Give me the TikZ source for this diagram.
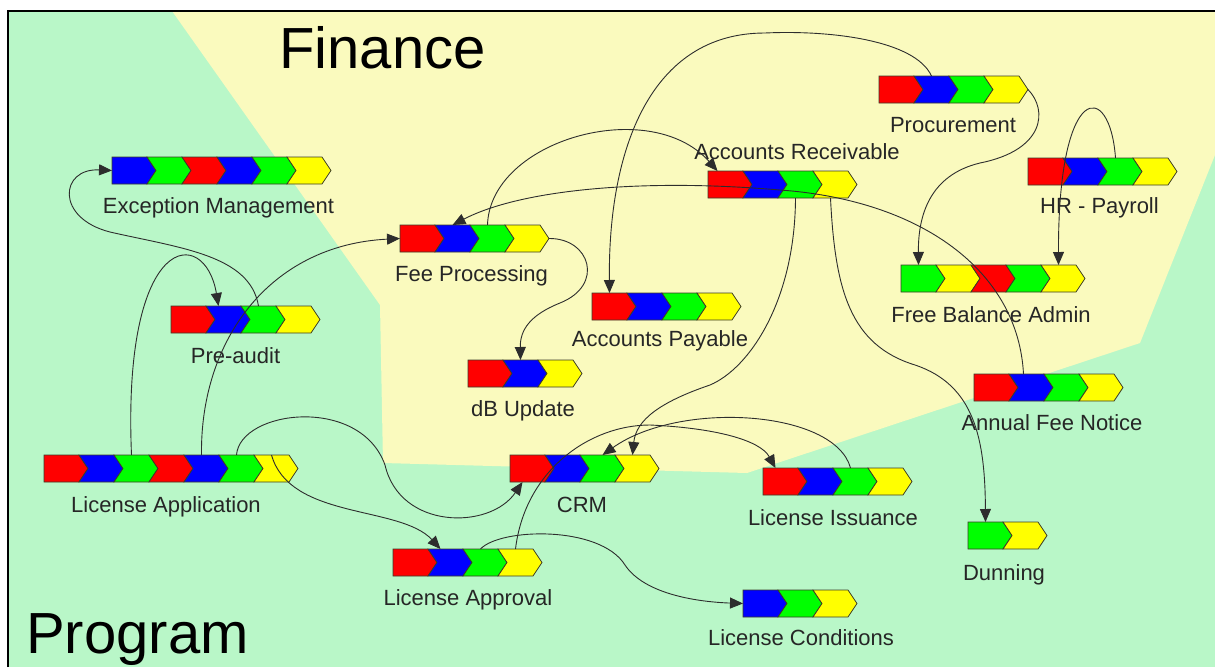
\documentclass[tikz,border=0pt]{standalone}
\usepackage{fontspec}
\setmainfont{Liberation Sans}
\usetikzlibrary{arrows.meta}
\definecolor{bggreen}{RGB}{185,247,200}
\definecolor{bgyellow}{RGB}{250,250,190}
\definecolor{cR}{RGB}{255,0,0}
\definecolor{cB}{RGB}{0,0,255}
\definecolor{cG}{RGB}{0,255,0}
\definecolor{cY}{RGB}{255,255,0}
\definecolor{edgecol}{RGB}{60,60,40}
\definecolor{wirecol}{RGB}{45,45,45}
\tikzset{
  chev/.style={draw=edgecol, line width=0.8pt, line join=miter},
  lbl/.style={anchor=base, inner sep=0pt, text=black!85, font=\fontsize{22}{26}\selectfont},
  big/.style={anchor=base west, inner sep=0pt, text=black, font=\fontsize{58}{62}\selectfont},
  wire/.style={draw=wirecol, line width=0.9pt, -{Triangle[length=13pt,width=11pt]}}
}
\newcommand\chevchain[4]{%
  \foreach \cc [count=\ii from 0] in {#4} {
    \pgfmathsetmacro\xa{#2+35*\ii}
    \pgfmathsetmacro\xb{\xa+35}
    \pgfmathsetmacro\xc{\xa+44}
    \pgfmathsetmacro\xm{\xa+17.5}
    \pgfmathsetmacro\xn{\xa+9}
    \ifnum\ii=0
      \filldraw[chev,fill=\cc] (\xa,#3) -- (\xb,#3) -- (\xc,#3+13.5) -- (\xb,#3+27) -- (\xa,#3+27) -- cycle;
    \else
      \filldraw[chev,fill=\cc] (\xa,#3) -- (\xb,#3) -- (\xc,#3+13.5) -- (\xb,#3+27) -- (\xa,#3+27) -- (\xn,#3+13.5) -- cycle;
    \fi
    \coordinate (#1-\ii-n) at (\xm,#3);
    \coordinate (#1-\ii-s) at (\xm,#3+27);
    \coordinate (#1-\ii-w) at (\xa,#3+13.5);
    \coordinate (#1-\ii-e) at (\xc,#3+13.5);
  }%
}
\begin{document}
\begin{tikzpicture}[x=1pt,y=-1pt]
\useasboundingbox (0,0) rectangle (1215,667);
% background regions
\fill[bggreen] (8,11) rectangle (1215,667);
\fill[bgyellow] (172,11) -- (380,305) -- (383,463) -- (747,473) -- (1140,343) -- (1215,155) -- (1215,11) -- cycle;
\draw[line width=2pt] (8,667) -- (8,11) -- (1215,11);
% titles
\node[big] (fin) at (279,68) {Finance};
\node[big] (prog) at (26,653) {Program};
% chains
\chevchain{exc}{112}{157}{cB,cG,cR,cB,cG,cY}
\chevchain{fee}{400}{225}{cR,cB,cG,cY}
\chevchain{ap}{592}{293}{cR,cB,cG,cY}
\chevchain{db}{468}{360}{cR,cB,cY}
\chevchain{pre}{171}{306}{cR,cB,cG,cY}
\chevchain{lapp}{44}{455}{cR,cB,cG,cR,cB,cG,cY}
\chevchain{crm}{510}{455}{cR,cB,cG,cY}
\chevchain{lappr}{393}{549}{cR,cB,cG,cY}
\chevchain{liss}{763}{468}{cR,cB,cG,cY}
\chevchain{lcond}{743}{590}{cB,cG,cY}
\chevchain{ar}{708}{171}{cR,cB,cG,cY}
\chevchain{proc}{879}{76}{cR,cB,cG,cY}
\chevchain{hr}{1028}{158}{cR,cB,cG,cY}
\chevchain{fba}{901}{265}{cG,cY,cR,cG,cY}
\chevchain{afn}{974}{374}{cR,cB,cG,cY}
\chevchain{dun}{968}{522}{cG,cY}
% labels
\node[lbl] (exc-l) at (218.5,213) {Exception Management};
\node[lbl] (fee-l) at (471.5,281) {Fee Processing};
\node[lbl] (ap-l) at (660,346) {Accounts Payable};
\node[lbl] (db-l) at (523,416) {dB Update};
\node[lbl] (pre-l) at (235.5,363) {Pre-audit};
\node[lbl] (lapp-l) at (166,512) {License Application};
\node[lbl] (crm-l) at (582,512) {CRM};
\node[lbl] (lappr-l) at (468,605) {License Approval};
\node[lbl] (liss-l) at (833,525) {License Issuance};
\node[lbl] (lcond-l) at (801,645) {License Conditions};
\node[lbl] (ar-l) at (797,159) {Accounts Receivable};
\node[lbl] (proc-l) at (953,132) {Procurement};
\node[lbl] (hr-l) at (1099.5,213) {HR - Payroll};
\node[lbl] (fba-l) at (991,322) {Free Balance Admin};
\node[lbl] (afn-l) at (1052,430) {Annual Fee Notice};
\node[lbl] (dun-l) at (1004,580) {Dunning};
% connectors
\draw[wire] (lapp-2-n) .. controls (122,230) and (205,225) .. ([xshift=-5pt]pre-1-n);
\draw[wire] (lapp-4-n) .. controls (200,340) and (270,245) .. (fee-0-w);
\draw[wire] (pre-2-n) .. controls (250,255) and (180,248) .. (110,232) .. controls (55,218) and (60,168) .. (exc-0-w);
\draw[wire] (lapp-5-n) .. controls (240,410) and (360,395) .. (385,465) .. controls (400,530) and (490,530) .. ([xshift=-5pt]crm-0-s);
\draw[wire] (lapp-6-n) .. controls (290,520) and (400,505) .. ([xshift=-5pt]lappr-1-n);
\draw[wire] (fee-3-e) .. controls (590,238) and (605,285) .. (560,303) .. controls (530,315) and (520,330) .. (db-1-n);
\draw[wire] ([xshift=-3pt]afn-1-n) .. controls (1018,270) and (920,200) .. (780,190) .. controls (640,178) and (520,190) .. (fee-1-n);
\draw[wire] (fee-2-n) .. controls (490,140) and (650,95) .. ([xshift=-8pt]ar-0-n);
\draw[wire] (proc-1-n) .. controls (915,40) and (830,30) .. (765,33) .. controls (650,33) and (608,150) .. (ap-0-n);
\draw[wire] (proc-3-e) .. controls (1048,110) and (1045,150) .. (980,163) .. controls (930,175) and (918,215) .. (fba-0-n);
\draw[wire] (hr-2-n) .. controls (1110,80) and (1058,80) .. (fba-4-n);
\draw[wire] (ar-2-s) .. controls (795,300) and (750,368) .. (710,385) .. controls (660,402) and (636,420) .. (crm-3-n);
\draw[wire] (liss-2-n) .. controls (835,410) and (680,400) .. ([xshift=5pt]crm-2-n);
\draw[wire] (ar-3-s) .. controls (835,290) and (850,345) .. (915,365) .. controls (975,385) and (985,440) .. (dun-0-n);
\draw[wire] (lappr-2-n) .. controls (500,528) and (600,525) .. (625,565) .. controls (645,595) and (700,602) .. (lcond-0-w);
\draw[wire] (lappr-3-n) .. controls (525,470) and (590,425) .. (650,425) .. controls (715,428) and (760,440) .. ([xshift=-5pt]liss-0-n);
\end{tikzpicture}
\end{document}
